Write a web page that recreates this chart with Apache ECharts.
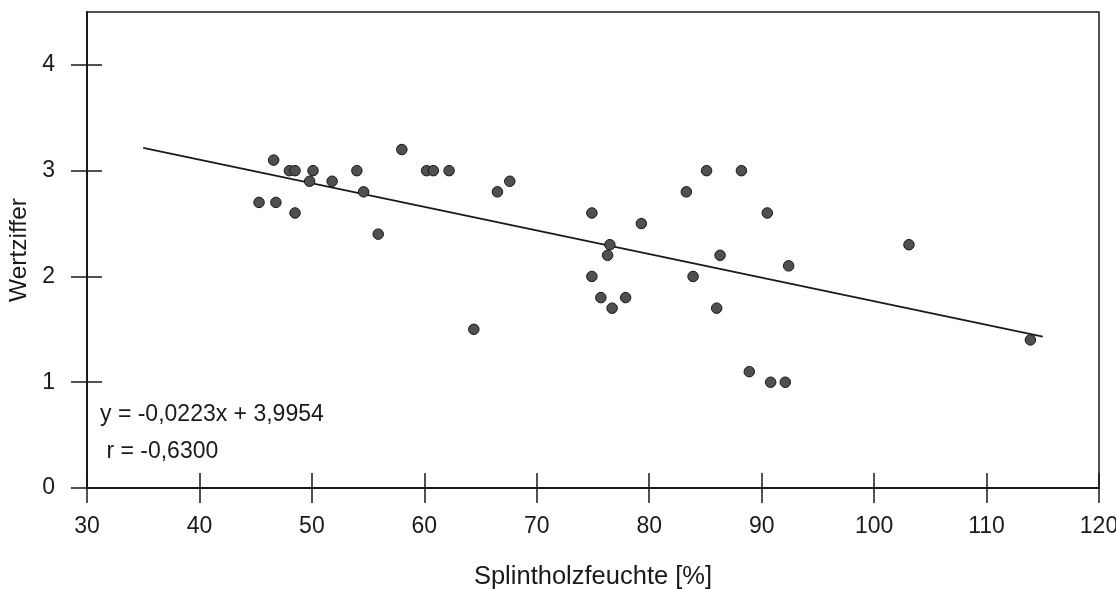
<!DOCTYPE html>
<html>
<head>
<meta charset="utf-8">
<script src="https://cdn.jsdelivr.net/npm/echarts@6/dist/echarts.min.js"></script>
<style>
  html, body { margin: 0; padding: 0; background: #fff; }
  #chart { width: 1116px; height: 589px; }
</style>
</head>
<body>
<div id="chart"></div>
<script>
// Splintholzfeuchte [%] against Wertziffer, one pair per sample
const moisture = [
  45.3, 46.6, 46.8, 48.0, 48.5, 48.5, 49.8, 50.1, 51.8, 54.0,
  54.6, 55.9, 58.0, 60.2, 60.8, 62.2, 64.4, 66.5, 67.6, 74.9,
  74.9, 75.7, 76.3, 76.5, 76.7, 77.9, 79.3, 83.3, 83.9, 85.1,
  86.3, 86.0, 88.2, 88.9, 90.5, 90.8, 92.1, 92.4, 103.1, 113.9
];
const rating = [
  2.7, 3.1, 2.7, 3.0, 3.0, 2.6, 2.9, 3.0, 2.9, 3.0,
  2.8, 2.4, 3.2, 3.0, 3.0, 3.0, 1.5, 2.8, 2.9, 2.6,
  2.0, 1.8, 2.2, 2.3, 1.7, 1.8, 2.5, 2.8, 2.0, 3.0,
  2.2, 1.7, 3.0, 1.1, 2.6, 1.0, 1.0, 2.1, 2.3, 1.4
];

// Linear fit as stated in the annotation
const slope = -0.0223;
const intercept = 3.9954;
const fitRange = [35, 115];
const equationText = 'y = -0,0223x + 3,9954';
const corrText = ' r = -0,6300';

const xTicks = [30, 40, 50, 60, 70, 80, 90, 100, 110, 120];
const yTicks = [0, 1, 2, 3, 4];

const points = moisture.map((x, i) => [x, rating[i]]);
const fitLine = fitRange.map(x => [x, slope * x + intercept]);

const FONT = '"Liberation Sans", Arial, sans-serif';
const INK = '#1a1a1a';

const chart = echarts.init(document.getElementById('chart'), null, { renderer: 'canvas' });

function xAxisBase() {
  return {
    type: 'value', min: 30, max: 120, interval: 10, position: 'bottom',
    splitLine: { show: false }
  };
}
function yAxisBase() {
  return {
    type: 'value', min: 0, max: 4.5, interval: 1, position: 'left',
    splitLine: { show: false }
  };
}

chart.setOption({
  animation: false,
  backgroundColor: '#fff',
  grid: {
    left: 87, top: 12, right: 17, bottom: 101,
    outerBoundsMode: 'none',
    containLabel: false,
    show: true, borderColor: INK, borderWidth: 1.5, backgroundColor: 'transparent'
  },
  xAxis: [
    Object.assign(xAxisBase(), {
      name: 'Splintholzfeuchte [%]',
      nameLocation: 'middle',
      nameGap: 76,
      nameTextStyle: { fontFamily: FONT, fontSize: 25.5, color: INK },
      axisLine: { show: true, onZero: false, lineStyle: { color: INK, width: 2 } },
      axisTick: { show: true, inside: false, length: 15, lineStyle: { color: INK, width: 1.5 }, customValues: xTicks },
      axisLabel: { show: true, margin: 27, fontFamily: FONT, fontSize: 23, color: INK, customValues: xTicks }
    }),
    Object.assign(xAxisBase(), {
      axisLine: { show: false, onZero: false },
      axisTick: { show: true, inside: true, length: 15, lineStyle: { color: INK, width: 1.5 }, customValues: xTicks },
      axisLabel: { show: false }
    })
  ],
  yAxis: [
    Object.assign(yAxisBase(), {
      name: 'Wertziffer',
      nameLocation: 'middle',
      nameGap: 50,
      nameTextStyle: { fontFamily: FONT, fontSize: 24.5, color: INK },
      axisLine: { show: true, onZero: false, lineStyle: { color: INK, width: 2 } },
      axisTick: { show: true, inside: false, length: 16, lineStyle: { color: INK, width: 1.5 }, customValues: yTicks },
      axisLabel: { show: true, margin: 32, fontFamily: FONT, fontSize: 23, color: INK, customValues: yTicks }
    }),
    Object.assign(yAxisBase(), {
      axisLine: { show: false, onZero: false },
      axisTick: { show: true, inside: true, length: 15, lineStyle: { color: INK, width: 1.5 }, customValues: yTicks },
      axisLabel: { show: false }
    })
  ],
  series: [
    {
      type: 'line',
      data: fitLine,
      xAxisIndex: 0, yAxisIndex: 0,
      showSymbol: false,
      silent: true,
      lineStyle: { color: INK, width: 1.7 },
      z: 2
    },
    {
      type: 'scatter',
      data: points,
      xAxisIndex: 0, yAxisIndex: 0,
      symbol: 'circle',
      symbolSize: 10.5,
      itemStyle: { color: '#505050', borderColor: '#161616', borderWidth: 1, opacity: 1 },
      z: 3
    }
  ],
  graphic: [
    {
      type: 'text', left: 100, top: 403,
      style: { text: equationText, fontFamily: FONT, fontSize: 23, fill: INK }
    },
    {
      type: 'text', left: 100, top: 440,
      style: { text: corrText, fontFamily: FONT, fontSize: 23, fill: INK }
    }
  ]
});
</script>
</body>
</html>
